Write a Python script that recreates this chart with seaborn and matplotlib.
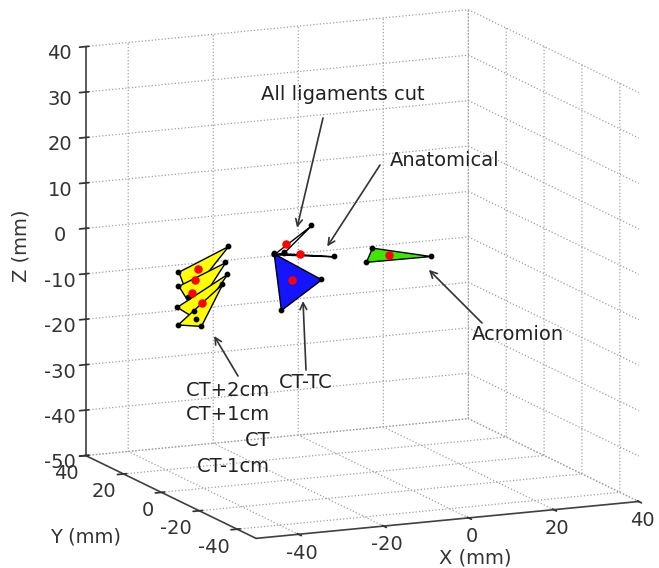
import matplotlib

matplotlib.use("Agg")

import matplotlib.pyplot as plt
import seaborn as sns
from mpl_toolkits.mplot3d import proj3d
from mpl_toolkits.mplot3d.art3d import Poly3DCollection

# --- values (mm) ---
# four clavicle-tip triangles, one per CT offset
ct_plus2 = [(-46.0, 0.0, -1.8), (-34.3, 0.0, 2.8), (-43.8, 0.0, -7.5)]
ct_plus1 = [(-46.0, 0.0, -4.9), (-35.0, 0.0, -0.7), (-42.4, 0.0, -10.7)]
ct_zero = [(-46.4, 0.0, -9.5), (-34.5, 0.0, -3.3), (-41.9, 0.0, -12.5)]
ct_minus1 = [(-46.2, 0.0, -13.4), (-35.7, 0.0, -5.4), (-40.7, 0.0, -14.2)]
ct_centres = [(-41.4, 0.0, -1.6), (-42.1, 0.0, -3.9), (-42.9, 0.0, -6.7), (-40.5, 0.0, -9.1)]

ct_tc = [(-23.6, 0.0, 0.2), (-12.4, 0.0, -6.5), (-21.9, 0.0, -12.4)]
ct_tc_centre = [(-19.3, 0.0, -6.1)]

ligaments_cut = [(-23.6, 0.0, 0.0), (-21.2, 0.0, 0.2), (-14.8, 0.0, 5.6)]
ligaments_cut_centre = [(-20.7, 0.0, 2.0)]
anatomical = [(-23.6, 0.0, 0.0), (-21.2, 0.0, 0.0), (-9.5, 0.0, -1.7)]
anatomical_centre = [(-17.4, 0.0, -0.5)]

acromion = [(-0.5, 0.0, -0.6), (-1.9, 0.0, -3.6), (13.3, 0.0, -3.7)]
acromion_centre = [(3.6, 0.0, -2.5)]

x_ticks = [-40, -20, 0, 20, 40]
y_ticks = [-40, -20, 0, 20, 40]
z_ticks = [-50, -40, -30, -20, -10, 0, 10, 20, 30, 40]

# label text, arrow head (data) and arrow tail / text spot (figure pixels, from top)
labels = [
    ("All ligaments cut", (-18.1, 0.0, 5.4), (323, 118), (343, 95)),
    ("Anatomical", (-11.0, 0.0, 0.6), (380, 165), (445, 160)),
    ("Acromion", (12.9, 0.0, -6.7), (482, 323), (518, 335)),
    ("CT-TC", (-16.7, 0.0, -10.9), (306, 370), (306, 382)),
]
ct_arrow = ((-37.6, 0.0, -16.7), (238, 376))
ct_names = ["CT+2cm", "CT+1cm", "CT", "CT-1cm"]
ct_name_rows = [390, 415, 440, 466]

sns.set_theme(style="white")
plt.rcParams["font.family"] = ["DejaVu Sans"]
plt.rcParams["axes.unicode_minus"] = False
plt.rcParams["grid.linestyle"] = ":"
plt.rcParams["grid.color"] = "#a0a0a0"
plt.rcParams["grid.linewidth"] = 0.9
plt.rcParams["axes.edgecolor"] = "#404040"

W, H = 659, 568
fig = plt.figure(figsize=(W / 100, H / 100), dpi=100)
ax = fig.add_axes([0.038, 0.004, 1.0, 1.0], projection="3d", proj_type="ortho",
                  computed_zorder=False)
ax.view_init(elev=12.5, azim=-114)
ax.set_box_aspect((1, 1, 1), zoom=1.24)
ax.set_xlim(-50, 40)
ax.set_ylim(-50, 40)
ax.set_zlim(-50, 40)
ax.set_xticks(x_ticks)
ax.set_yticks(y_ticks)
ax.set_zticks(z_ticks)
ax.tick_params(labelsize=14, colors="#333333")
ax.tick_params(axis="x", pad=-4)
ax.tick_params(axis="y", pad=-4)
ax.tick_params(axis="z", pad=2)
plt.setp(ax.get_yticklabels(), ha="right")
ax.set_zlabel("Z (mm)", fontsize=14, color="#333333", labelpad=4)
for axis in (ax.xaxis, ax.yaxis, ax.zaxis):
    axis.set_pane_color((1, 1, 1, 0))
    axis.pane.set_edgecolor((1, 1, 1, 0))
    axis.line.set_color("#404040")
    axis.line.set_linewidth(1.2)

faces = [
    (ct_plus2, "#ffff00"),
    (ct_plus1, "#ffff00"),
    (ct_zero, "#ffff00"),
    (ct_minus1, "#ffff00"),
    (ct_tc, "#1414ff"),
    (ligaments_cut, "#ffffff"),
    (anatomical, "#ffffff"),
    (acromion, "#3ee600"),
]
for tri, colour in faces:
    poly = Poly3DCollection([tri], facecolor=colour, edgecolor="black", linewidth=1.0, zorder=2)
    ax.add_collection3d(poly)
for tri, colour in faces:
    xs, ys, zs = zip(*tri)
    ax.scatter(xs, ys, zs, color="black", s=10, depthshade=False, zorder=3)

for pts in (ct_centres, ct_tc_centre, ligaments_cut_centre, anatomical_centre, acromion_centre):
    xs, ys, zs = zip(*pts)
    ax.scatter(xs, ys, zs, color="red", s=26, depthshade=False, zorder=4)

# x / y axis titles stay horizontal, as in the original
fig.text(475 / W, 1 - 558 / H, "X (mm)", ha="center", va="center", fontsize=14, color="#333333")
fig.text(86 / W, 1 - 537 / H, "Y (mm)", ha="center", va="center", fontsize=14, color="#333333")

fig.canvas.draw()
M = ax.get_proj()
arrow_kw = dict(arrowstyle="->", color="#333333", lw=1.2, shrinkA=0, shrinkB=0)

for text, head, tail, spot in labels:
    hx, hy, _ = proj3d.proj_transform(*head, M)
    ax.annotate("", xy=(hx, hy), xycoords="data", xytext=(tail[0], H - tail[1]),
                textcoords="figure pixels", arrowprops=arrow_kw)
    fig.text(spot[0] / W, 1 - spot[1] / H, text, ha="center", va="center", fontsize=14, color="#222222")

hx, hy, _ = proj3d.proj_transform(*ct_arrow[0], M)
ax.annotate("", xy=(hx, hy), xycoords="data", xytext=(ct_arrow[1][0], H - ct_arrow[1][1]),
            textcoords="figure pixels", arrowprops=arrow_kw)
for name, row in zip(ct_names, ct_name_rows):
    fig.text(270 / W, 1 - row / H, name, ha="right", va="center", fontsize=14, color="#222222")

fig.savefig("out.png", dpi=100)
